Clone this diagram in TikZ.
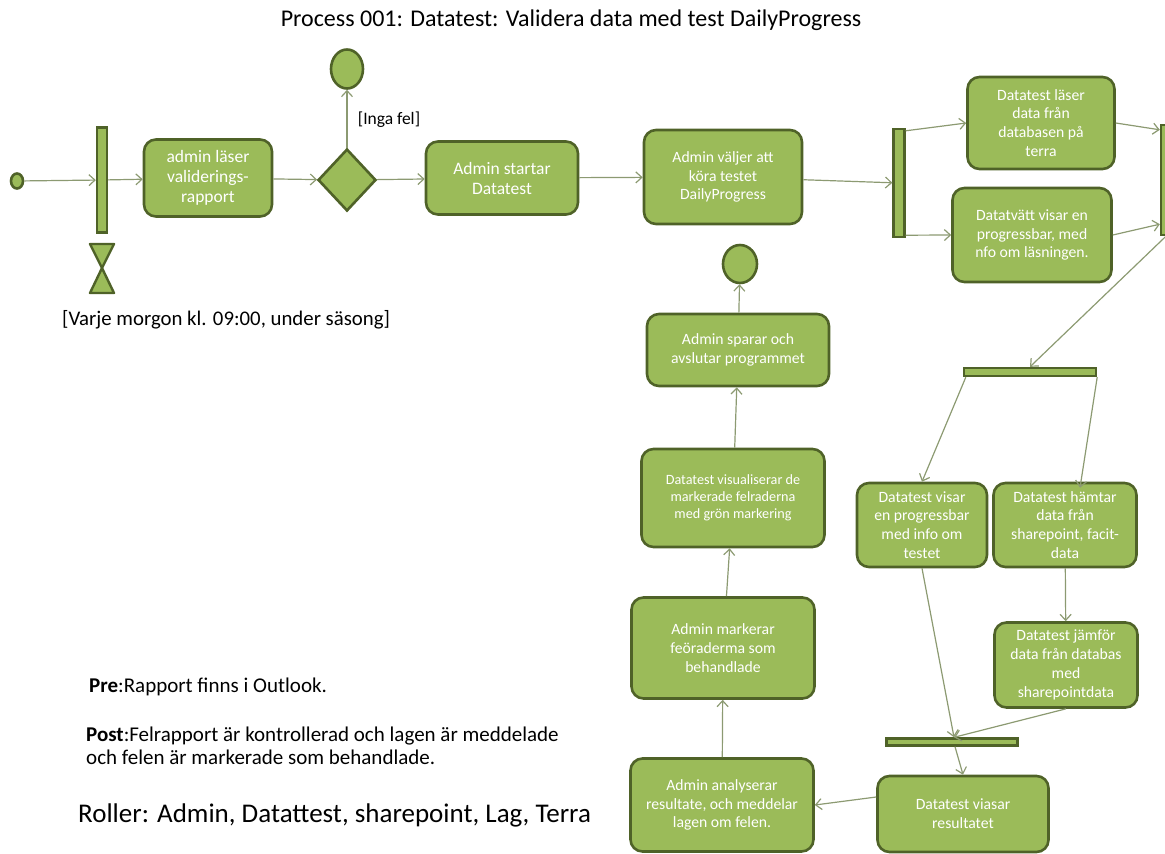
\documentclass[tikz,border=0pt]{standalone}
\usepackage{fontspec}
\setmainfont{Carlito}
\usepackage{xcolor}
\usepackage{tikz}
\usetikzlibrary{shapes.geometric, arrows.meta}

\definecolor{olivfyll}{HTML}{9BBB59}
\definecolor{olivkant}{HTML}{4F6228}
\definecolor{pilgra}{HTML}{8C9A72}

\begin{document}
\begin{tikzpicture}[
		    x=1pt, y=-1pt,
		    every node/.style={inner sep=0pt},
		    aktivitet/.style={draw=olivkant, fill=olivfyll, line width=2.6pt, rounded corners=12pt,
		        text=white, align=center, font=\fontsize{15.7}{18.8}\selectfont},
		    stor/.style={font=\fontsize{17.5}{20}\selectfont},
		    stapel/.style={draw=olivkant, fill=olivfyll, line width=2.4pt},
		    rund/.style={ellipse, draw=olivkant, fill=olivfyll, line width=2.6pt},
		    beslut/.style={diamond, draw=olivkant, fill=olivfyll, line width=2.6pt},
		    pil/.style={draw=pilgra, line width=1.2pt, -{Straight Barb[length=6pt,width=11pt]}}
		]
		\useasboundingbox (0,0) rectangle (1165,854);
		\tikzset{
		    brodtext/.style={text=black, align=left}
		}
		% rubrik
		\node (rubrik) at (571,20) {\fontsize{24}{28}\selectfont Process 001: Datatest: Validera data med test DailyProgress};
		% start och forsta raden
		\node[rund, minimum width=12pt, minimum height=15pt] (start) at (17,181) {};
		\node[stapel, minimum width=10pt, minimum height=105pt] (gren1) at (102,180) {};
		\draw[stapel, line join=round] (90,244) -- (114,244) -- (102,268) -- cycle;
		\draw[stapel, line join=round] (102,268) -- (114,293) -- (90,293) -- cycle;
		\node[brodtext, anchor=west] (varje) at (62,320) {\fontsize{20.8}{24}\selectfont [Varje morgon kl. 09:00, under säsong]};
		\node[aktivitet, stor, minimum width=128pt, minimum height=77pt] (laser) at (208,178) {admin läser\\validerings-\\rapport};
		\node[beslut, minimum width=58pt, minimum height=62pt] (val) at (347,180) {};
		\node[rund, minimum width=32pt, minimum height=39pt] (slut1) at (347,69) {};
		\node[brodtext] (ingafel) at (389,120) {\fontsize{17.5}{20}\selectfont [Inga fel]};
		\node[aktivitet, stor, minimum width=152pt, minimum height=73pt] (starta) at (502,178) {Admin startar\\Datatest};
		\node[aktivitet, minimum width=158pt, minimum height=94pt] (valjer) at (723,177) {Admin  väljer att\\köra testet\\DailyProgress};
		\node[stapel, minimum width=11pt, minimum height=108pt] (gren2) at (899,183) {};
		\node[aktivitet, minimum width=147pt, minimum height=92pt] (lasdata) at (1041,123) {Datatest  läser\\data från\\databasen på\\terra};
		\node[aktivitet, minimum width=159pt, minimum height=94pt] (tvatt) at (1032,235) {Datatvätt visar en\\progressbar, med\\nfo om  läsningen.};
		\node[stapel, minimum width=10pt, minimum height=110pt] (samman) at (1166,180) {};
		% hoger kolumn
		\node[stapel, minimum width=132pt, minimum height=8pt] (join4) at (1030,372) {};
		\node[aktivitet, minimum width=130pt, minimum height=84pt] (visar) at (922,525) {Datatest visar\\en progressbar\\med  info om\\testet};
		\node[aktivitet, minimum width=143pt, minimum height=84pt] (hamtar) at (1065,525) {Datatest hämtar\\data från\\sharepoint, facit-\\data};
		\node[aktivitet, minimum width=143pt, minimum height=85pt] (jamfor) at (1066,665) {Datatest jämför\\data från databas\\med\\sharepointdata};
		\node[stapel, minimum width=131pt, minimum height=7pt] (join5) at (952,742) {};
		\node[aktivitet, minimum width=171pt, minimum height=76pt] (resultat) at (963,814) {Datatest viasar\\resultatet};
		% mittre kolumn
		\node[aktivitet, minimum width=183pt, minimum height=93pt] (analys) at (722,805) {Admin analyserar\\resultate, och meddelar\\lagen om felen.};
		\node[aktivitet, minimum width=183pt, minimum height=101pt] (markerar) at (723,648) {Admin  markerar\\feöraderma  som\\behandlade};
		\node[aktivitet, font=\fontsize{14.2}{17}\selectfont, minimum width=183pt, minimum height=98pt] (visual) at (733,498) {Datatest visualiserar de\\markerade  felraderna\\med  grön  markering};
		\node[aktivitet, minimum width=182pt, minimum height=72pt] (spara) at (738,350) {Admin  sparar och\\avslutar programmet};
		\node[rund, minimum width=34pt, minimum height=38pt] (slut2) at (740,264) {};
		% texter nere till vanster
		\node[brodtext, anchor=west, font=\fontsize{21}{23}\selectfont] (pre) at (89,687) {\textbf{Pre}:Rapport finns i Outlook.};
		\node[brodtext, anchor=north west, font=\fontsize{21}{23}\selectfont] (post) at (86,727) {\textbf{Post}:Felrapport är kontrollerad och lagen är meddelade\\och felen är markerade  som behandlade.};
		\node[brodtext, anchor=west, font=\fontsize{27}{30}\selectfont] (roller) at (78,815) {Roller: Admin, Datattest, sharepoint, Lag, Terra};
		% pilar
		\draw[pil] (start) -- (gren1);
		\draw[pil] (gren1) -- (laser);
		\draw[pil] (laser) -- (val);
		\draw[pil] (val) -- (slut1);
		\draw[pil] (val) -- (starta);
		\draw[pil] (starta) -- (valjer);
		\draw[pil] (valjer) -- (gren2);
		\draw[pil] ([yshift=-3pt]gren2.north east) -- (lasdata.west);
		\draw[pil] ([yshift=3pt]gren2.south east) -- (tvatt.west);
		\draw[pil] (lasdata.east) -- ([yshift=-6pt]samman.north west);
		\draw[pil] (tvatt.east) -- ([yshift=12pt]samman.south west);
		\draw[pil] (samman.south) -- (join4.north);
		\draw[pil] ([xshift=3pt]join4.south west) -- (visar.north);
		\draw[pil] (join4.south east) -- ([xshift=15pt,yshift=-6pt]hamtar.north);
		\draw[pil] (hamtar) -- (jamfor);
		\draw[pil] (visar.south) -- ([xshift=2pt]join5.north);
		\draw[pil] (jamfor.south) -- ([xshift=2pt]join5.north);
		\draw[pil] ([xshift=3pt]join5.south) -- (resultat.north);
		\draw[pil] ([yshift=17pt]resultat.west) -- (analys.east);
		\draw[pil] (analys) -- (markerar);
		\draw[pil] (markerar) -- (visual);
		\draw[pil] (visual) -- (spara);
		\draw[pil] (spara) -- (slut2);
		\end{tikzpicture}
\end{document}
